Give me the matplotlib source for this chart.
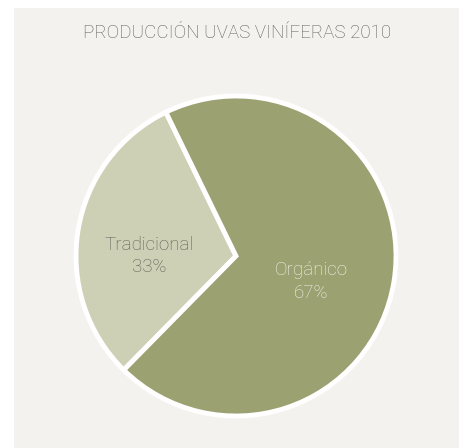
import matplotlib.pyplot as plt
from matplotlib.patches import Rectangle
import numpy as np

# datos
categorias = ["Tradicional", "Orgánico"]
valores = [30.4, 69.6]          # lo que mide el dibujo
etiquetas_pct = ["33%", "67%"]  # lo que dice el texto
titulo = "PRODUCCIÓN UVAS VINÍFERAS 2010"

colores = ["#cdd0b4", "#9ca172"]
colores_txt = ["#5e5e58", "#f4f4ea"]
fondo = "#f4f2ee"

plt.rcParams["font.family"] = ["Roboto", "DejaVu Sans"]

fig = plt.figure(figsize=(4.62, 4.48), dpi=100)
fig.patch.set_facecolor("white")
# panel beige
fig.add_artist(Rectangle((14 / 462, 0), 445 / 462, 440 / 448,
                         transform=fig.transFigure, facecolor=fondo,
                         edgecolor="none", zorder=-10))

fig.text(237 / 462, 1 - 33 / 448, titulo, ha="center", va="center",
         fontsize=13.5, color="#5e5e5c", fontweight="light")

ax = fig.add_axes([76 / 462, 1 - 416 / 448, 320 / 462, 320 / 448])
ax.set_facecolor("none")
wedges, _ = ax.pie(valores, colors=colores, startangle=116, counterclock=True,
                   wedgeprops=dict(edgecolor="white", linewidth=3.5))
for w in wedges:
    w.set_clip_on(False)
ax.set_xlim(-1, 1)
ax.set_ylim(-1, 1)
ax.set_aspect("equal")
ax.axis("off")

# etiquetas
pos = [(-0.54, 0.0), (0.47, -0.16)]
for cat, pct, (x, y), c in zip(categorias, etiquetas_pct, pos, colores_txt):
    ax.text(x, y, cat + "\n" + pct, ha="center", va="center", fontsize=13.5,
            color=c, fontweight="light", linespacing=1.35)

fig.savefig("out.png", dpi=100, facecolor=fig.get_facecolor())
